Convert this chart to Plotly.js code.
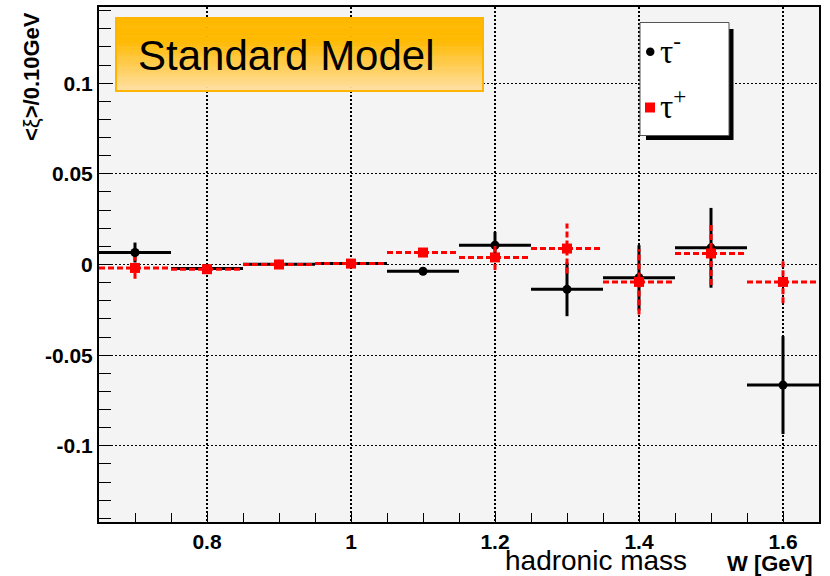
<!DOCTYPE html>
<html><head><meta charset="utf-8">
<script src="https://cdn.plot.ly/plotly-3.0.1.min.js"></script>
<style>html,body{margin:0;padding:0;background:#fff}#chart{width:830px;height:576px}</style>
</head><body><div id="chart"></div>
<script>
// ---- data ----
const binCenters = [0.7, 0.8, 0.9, 1.0, 1.1, 1.2, 1.3, 1.4, 1.5, 1.6];
const binWidth = 0.1;
const tauMinusY   = [0.0066, -0.0022, 0.0002, 0.0006, -0.0037, 0.0106, -0.0137, -0.0073, 0.0092, -0.0665];
const tauMinusErr = [0.0055, 0.001, 0.001, 0.001, 0.0015, 0.0074, 0.0148, 0.018, 0.022, 0.027];
const tauPlusY    = [-0.0019, -0.0026, 0.0, 0.0005, 0.0066, 0.0039, 0.0088, -0.0096, 0.0061, -0.0096];
const tauPlusErr  = [0.006, 0.001, 0.001, 0.001, 0.002, 0.007, 0.0138, 0.018, 0.0174, 0.0118];
const xTickVals = [0.8, 1, 1.2, 1.4, 1.6];
const xTickText = ['0.8', '1', '1.2', '1.4', '1.6'];
const yTickVals = [-0.1, -0.05, 0, 0.05, 0.1];
const yTickText = ['-0.1', '-0.05', '0', '0.05', '0.1'];
const seriesNames = ['τ<sup>-</sup>', 'τ<sup>+</sup>'];
const boxLabel = 'Standard Model';
const yTitle = '<b>&lt;</b>ξ<b>&gt;/0.10GeV</b>';
const xTitle = 'hadronic mass';
const xUnit = 'W [GeV]';

// ---- layout geometry ----
const M = {l: 99, r: 11, t: 7, b: 54};
const PW = 830 - M.l - M.r, PH = 576 - M.t - M.b;
const fx = px => (px - M.l) / PW;
const fy = py => (576 - M.b - py) / PH;

function crossSegments(xs, ys, errs, half) {
  const x = [], y = [];
  xs.forEach((xc, i) => {
    x.push(xc - half, xc + half, null, xc, xc, null);
    y.push(ys[i], ys[i], null, ys[i] - errs[i], ys[i] + errs[i], null);
  });
  return {x, y};
}

const segM = crossSegments(binCenters, tauMinusY, tauMinusErr, binWidth / 2);
const segP = crossSegments(binCenters, tauPlusY, tauPlusErr, binWidth / 2);

const blackStyle = {color: '#000000'};
const redStyle = {color: '#ff0000'};

const traces = [
  {x: segM.x, y: segM.y, mode: 'lines', line: {color: blackStyle.color, width: 3}, hoverinfo: 'skip', showlegend: false},
  {x: binCenters, y: tauMinusY, mode: 'markers', name: seriesNames[0], marker: {symbol: 'circle', size: 9, color: blackStyle.color}, showlegend: false},
  {x: segP.x, y: segP.y, mode: 'lines', line: {color: redStyle.color, width: 3, dash: '6px,3px'}, hoverinfo: 'skip', showlegend: false},
  {x: binCenters, y: tauPlusY, mode: 'markers', name: seriesNames[1], marker: {symbol: 'square', size: 10, color: redStyle.color}, showlegend: false}
];

// gradient box for "Standard Model"
const shapes = [];
const bx0 = 116, bx1 = 483, by0 = 18, by1 = 91;
const nBands = 40;
for (let i = 0; i < nBands; i++) {
  const t = (i + 0.5) / nBands;
  let c;
  if (t < 0.3) c = [255, 185, 0];
  else {
    const u = (t - 0.3) / 0.7;
    c = [255, Math.round(185 + (224 - 185) * u), Math.round(0 + (165 - 0) * u)];
  }
  const ya = by0 + (by1 - by0) * i / nBands, yb = by0 + (by1 - by0) * (i + 1) / nBands + 0.5;
  shapes.push({type: 'rect', xref: 'paper', yref: 'paper', x0: fx(bx0), x1: fx(bx1), y0: fy(ya), y1: fy(yb),
    fillcolor: `rgb(${c[0]},${c[1]},${c[2]})`, line: {width: 0}, layer: 'above'});
}
shapes.push({type: 'rect', xref: 'paper', yref: 'paper', x0: fx(bx0), x1: fx(bx1), y0: fy(by0), y1: fy(by1),
  fillcolor: 'rgba(0,0,0,0)', line: {color: '#ffb400', width: 2}, layer: 'above'});

// legend box with shadow
shapes.push({type: 'rect', xref: 'paper', yref: 'paper', x0: fx(646), x1: fx(733.5), y0: fy(29), y1: fy(140),
  fillcolor: '#000000', line: {width: 0}, layer: 'above'});
shapes.push({type: 'rect', xref: 'paper', yref: 'paper', x0: fx(640), x1: fx(729), y0: fy(22.5), y1: fy(135.5),
  fillcolor: '#ffffff', line: {color: '#555555', width: 1}, layer: 'above'});
shapes.push({type: 'circle', xref: 'paper', yref: 'paper', x0: fx(646), x1: fx(654.5), y0: fy(47.5), y1: fy(56),
  fillcolor: blackStyle.color, line: {width: 0}, layer: 'above'});
shapes.push({type: 'rect', xref: 'paper', yref: 'paper', x0: fx(645), x1: fx(655), y0: fy(102.5), y1: fy(112.5),
  fillcolor: redStyle.color, line: {width: 0}, layer: 'above'});

const annotations = [
  {xref: 'paper', yref: 'paper', x: fx(136), y: fy(56), xanchor: 'left', yanchor: 'middle', showarrow: false,
   text: boxLabel, font: {family: 'Liberation Sans, Arial, sans-serif', size: 42, color: '#000'}},
  {xref: 'paper', yref: 'paper', x: fx(658), y: fy(49), xanchor: 'left', yanchor: 'middle', showarrow: false,
   text: seriesNames[0], font: {family: 'Liberation Serif, DejaVu Serif, serif', size: 33, color: '#000'}},
  {xref: 'paper', yref: 'paper', x: fx(658), y: fy(104), xanchor: 'left', yanchor: 'middle', showarrow: false,
   text: seriesNames[1], font: {family: 'Liberation Serif, DejaVu Serif, serif', size: 33, color: '#000'}},
  {xref: 'paper', yref: 'paper', x: fx(31), y: fy(77), xanchor: 'center', yanchor: 'middle', showarrow: false, textangle: -90,
   text: yTitle, font: {family: 'Liberation Sans, Arial, sans-serif', size: 22, color: '#000'}},
  {xref: 'paper', yref: 'paper', x: fx(503), y: fy(560), xanchor: 'left', yanchor: 'middle', showarrow: false,
   text: xTitle, font: {family: 'Liberation Sans, Arial, sans-serif', size: 28, color: '#000'}},
  {xref: 'paper', yref: 'paper', x: fx(725), y: fy(563), xanchor: 'left', yanchor: 'middle', showarrow: false,
   text: '<b>' + xUnit + '</b>', font: {family: 'Liberation Sans, Arial, sans-serif', size: 22, color: '#000'}}
];

const tickFont = {family: 'Liberation Sans, Arial, sans-serif', size: 21, color: '#000', weight: 'bold'};

const layout = {
  width: 830, height: 576,
  margin: M,
  paper_bgcolor: '#ffffff',
  plot_bgcolor: '#f4f4f4',
  showlegend: false,
  xaxis: {
    range: [0.65, 1.65], tickmode: 'array', tickvals: xTickVals, ticktext: xTickText,
    ticks: 'inside', ticklen: 9, tickwidth: 1, tickcolor: '#000',
    minor: {dtick: 0.05, tick0: 0, ticks: 'inside', ticklen: 9, tickwidth: 1, tickcolor: '#000', showgrid: false},
    showgrid: true, gridcolor: '#000', gridwidth: 1.3, griddash: '2px,2px',
    showline: true, linecolor: '#000', linewidth: 2, mirror: true, zeroline: false,
    tickfont: tickFont, fixedrange: true
  },
  yaxis: {
    range: [-0.142, 0.142], tickmode: 'array', tickvals: yTickVals, ticktext: yTickText,
    ticks: 'inside', ticklen: 12, tickwidth: 1, tickcolor: '#000',
    minor: {dtick: 0.01, tick0: 0, ticks: 'inside', ticklen: 12, tickwidth: 1, tickcolor: '#000', showgrid: false},
    showgrid: true, gridcolor: '#000', gridwidth: 1.3, griddash: '2px,2px',
    showline: true, linecolor: '#000', linewidth: 2, mirror: true, zeroline: false,
    tickfont: tickFont, fixedrange: true
  },
  shapes: shapes,
  annotations: annotations,
  hovermode: false
};

Plotly.newPlot('chart', traces, layout, {displayModeBar: false, staticPlot: true});
</script>
</body></html>
